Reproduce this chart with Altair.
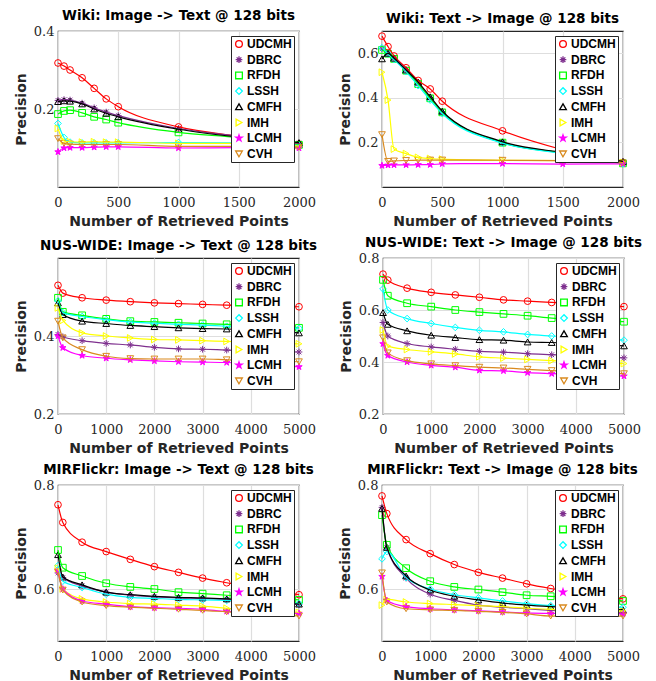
import altair as alt
import pandas as pd

methods = ["UDCMH", "DBRC", "RFDH", "LSSH", "CMFH", "IMH", "LCMH", "CVH"]
colors = ["#ff0000", "#7e2f8e", "#00ff00", "#00ffff", "#000000", "#ffff00", "#ff00ff", "#d98a1f"]
fills = ["transparent", "transparent", "transparent", "transparent", "transparent", "transparent", "#ff00ff", "transparent"]
ASTERISK = "M0,-1L0,1M-1,0L1,0M-0.7,-0.7L0.7,0.7M-0.7,0.7L0.7,-0.7"
STAR = "M0,-1L0.2245,-0.309L0.951,-0.309L0.363,0.118L0.588,0.809L0,0.382L-0.588,0.809L-0.363,0.118L-0.951,-0.309L-0.2245,-0.309Z"
shapes = ["circle", ASTERISK, "square", "diamond", "triangle-up", "triangle-right", STAR, "triangle-down"]

# ---- Wiki: Image -> Text ----
wiki_i2t_x = [0, 50, 100, 200, 300, 400, 500, 1000, 1500, 2000]
wiki_i2t = {
    "UDCMH": [0.318, 0.310, 0.300, 0.280, 0.253, 0.226, 0.206, 0.154, 0.130, 0.110],
    "DBRC":  [0.222, 0.224, 0.223, 0.215, 0.203, 0.192, 0.183, 0.150, 0.130, 0.112],
    "RFDH":  [0.187, 0.195, 0.197, 0.190, 0.180, 0.173, 0.165, 0.140, 0.127, 0.108],
    "LSSH":  [0.163, 0.127, 0.115, 0.113, 0.113, 0.113, 0.113, 0.114, 0.113, 0.107],
    "CMFH":  [0.219, 0.221, 0.220, 0.213, 0.200, 0.189, 0.180, 0.148, 0.128, 0.114],
    "IMH":   [0.150, 0.118, 0.116, 0.115, 0.116, 0.115, 0.115, 0.112, 0.112, 0.105],
    "LCMH":  [0.090, 0.100, 0.101, 0.101, 0.102, 0.103, 0.103, 0.100, 0.101, 0.100],
    "CVH":   [0.124, 0.112, 0.110, 0.109, 0.109, 0.109, 0.109, 0.104, 0.104, 0.102],
}

# ---- Wiki: Text -> Image ----
wiki_t2i_x = [0, 50, 100, 200, 300, 400, 500, 1000, 1500, 2000]
wiki_t2i = {
    "UDCMH": [0.677, 0.630, 0.588, 0.535, 0.478, 0.440, 0.385, 0.252, 0.167, 0.110],
    "DBRC":  [0.620, 0.600, 0.578, 0.527, 0.465, 0.400, 0.338, 0.200, 0.153, 0.108],
    "RFDH":  [0.615, 0.598, 0.575, 0.522, 0.462, 0.398, 0.335, 0.199, 0.152, 0.106],
    "LSSH":  [0.625, 0.597, 0.572, 0.518, 0.455, 0.390, 0.330, 0.197, 0.150, 0.105],
    "CMFH":  [0.575, 0.600, 0.578, 0.525, 0.471, 0.405, 0.340, 0.203, 0.155, 0.115],
    "IMH":   [0.515, 0.390, 0.170, 0.150, 0.133, 0.128, 0.125, 0.120, 0.118, 0.110],
    "LCMH":  [0.096, 0.098, 0.099, 0.099, 0.100, 0.100, 0.104, 0.105, 0.103, 0.104],
    "CVH":   [0.235, 0.115, 0.117, 0.119, 0.120, 0.121, 0.121, 0.120, 0.118, 0.108],
}

# ---- NUS-WIDE: Image -> Text ----
nus_i2t_x = [0, 100, 500, 1000, 1500, 2000, 2500, 3000, 3500, 5000]
nus_i2t = {
    "UDCMH": [0.530, 0.510, 0.498, 0.492, 0.488, 0.485, 0.483, 0.481, 0.479, 0.475],
    "DBRC":  [0.404, 0.398, 0.388, 0.381, 0.377, 0.371, 0.367, 0.366, 0.364, 0.359],
    "RFDH":  [0.498, 0.462, 0.453, 0.444, 0.438, 0.436, 0.434, 0.432, 0.430, 0.421],
    "LSSH":  [0.490, 0.460, 0.450, 0.442, 0.436, 0.433, 0.430, 0.428, 0.425, 0.420],
    "CMFH":  [0.485, 0.455, 0.438, 0.432, 0.427, 0.424, 0.421, 0.419, 0.418, 0.408],
    "IMH":   [0.472, 0.440, 0.408, 0.400, 0.395, 0.391, 0.390, 0.388, 0.386, 0.380],
    "LCMH":  [0.400, 0.370, 0.350, 0.343, 0.339, 0.336, 0.334, 0.333, 0.332, 0.321],
    "CVH":   [0.438, 0.395, 0.365, 0.348, 0.342, 0.341, 0.341, 0.341, 0.339, 0.334],
}

# ---- NUS-WIDE: Text -> Image ----
nus_t2i_x = [0, 100, 500, 1000, 1500, 2000, 2500, 3000, 3500, 5000]
nus_t2i = {
    "UDCMH": [0.738, 0.715, 0.684, 0.668, 0.658, 0.649, 0.639, 0.634, 0.629, 0.613],
    "DBRC":  [0.552, 0.500, 0.471, 0.458, 0.449, 0.441, 0.438, 0.432, 0.428, 0.416],
    "RFDH":  [0.716, 0.655, 0.626, 0.613, 0.600, 0.592, 0.585, 0.578, 0.569, 0.555],
    "LSSH":  [0.681, 0.600, 0.567, 0.548, 0.533, 0.522, 0.516, 0.506, 0.500, 0.484],
    "CMFH":  [0.590, 0.545, 0.520, 0.503, 0.494, 0.486, 0.484, 0.477, 0.475, 0.462],
    "IMH":   [0.523, 0.461, 0.448, 0.439, 0.431, 0.420, 0.415, 0.410, 0.405, 0.394],
    "LCMH":  [0.470, 0.425, 0.400, 0.387, 0.380, 0.368, 0.366, 0.359, 0.355, 0.346],
    "CVH":   [0.493, 0.435, 0.405, 0.393, 0.386, 0.380, 0.377, 0.372, 0.367, 0.355],
}

# ---- MIRFlickr: Image -> Text ----
mir_i2t_x = [0, 100, 500, 1000, 1500, 2000, 2500, 3000, 3500, 5000]
mir_i2t = {
    "UDCMH": [0.762, 0.728, 0.690, 0.672, 0.657, 0.643, 0.632, 0.621, 0.612, 0.589],
    "DBRC":  [0.631, 0.622, 0.606, 0.594, 0.588, 0.585, 0.583, 0.582, 0.580, 0.570],
    "RFDH":  [0.675, 0.641, 0.625, 0.611, 0.604, 0.600, 0.594, 0.591, 0.588, 0.579],
    "LSSH":  [0.645, 0.615, 0.603, 0.590, 0.584, 0.582, 0.580, 0.579, 0.578, 0.572],
    "CMFH":  [0.666, 0.623, 0.608, 0.594, 0.589, 0.586, 0.584, 0.583, 0.581, 0.571],
    "IMH":   [0.640, 0.600, 0.581, 0.575, 0.572, 0.571, 0.569, 0.567, 0.563, 0.555],
    "LCMH":  [0.635, 0.600, 0.577, 0.571, 0.566, 0.564, 0.563, 0.561, 0.557, 0.553],
    "CVH":   [0.633, 0.598, 0.575, 0.568, 0.565, 0.563, 0.561, 0.559, 0.556, 0.548],
}

# ---- MIRFlickr: Text -> Image ----
mir_t2i_x = [0, 100, 500, 1000, 1500, 2000, 2500, 3000, 3500, 5000]
mir_t2i = {
    "UDCMH": [0.779, 0.745, 0.695, 0.668, 0.647, 0.632, 0.621, 0.610, 0.601, 0.581],
    "DBRC":  [0.757, 0.680, 0.621, 0.590, 0.578, 0.569, 0.565, 0.562, 0.559, 0.553],
    "RFDH":  [0.742, 0.685, 0.640, 0.615, 0.604, 0.599, 0.594, 0.588, 0.586, 0.577],
    "LSSH":  [0.658, 0.672, 0.622, 0.600, 0.589, 0.583, 0.577, 0.572, 0.568, 0.565],
    "CMFH":  [0.755, 0.680, 0.625, 0.598, 0.586, 0.579, 0.573, 0.569, 0.566, 0.560],
    "IMH":   [0.569, 0.580, 0.575, 0.572, 0.570, 0.568, 0.566, 0.563, 0.561, 0.558],
    "LCMH":  [0.624, 0.578, 0.566, 0.562, 0.560, 0.558, 0.556, 0.554, 0.553, 0.552],
    "CVH":   [0.631, 0.575, 0.562, 0.560, 0.559, 0.557, 0.555, 0.552, 0.548, 0.548],
}

IND = dict(stroke="independent", fill="independent", shape="independent", color="independent")


def panel(title, xs, series, xdom, xticks, ydom, yticks, toff):
    rows = []
    for m in methods:
        for x, v in zip(xs, series[m]):
            rows.append({"x": x, "p": v, "method": m})
    df = pd.DataFrame(rows)
    xenc = alt.X("x:Q", scale=alt.Scale(domain=xdom, nice=False, zero=False),
                 axis=alt.Axis(values=xticks, title="Number of Retrieved Points", format="d"))
    yenc = alt.Y("p:Q", scale=alt.Scale(domain=ydom, nice=False, zero=False),
                 axis=alt.Axis(values=yticks, format=".1f", title="Precision"))
    leg = alt.Legend(title=None, orient="none", legendX=173, legendY=5)
    pts = alt.Chart(df).mark_point(size=45, strokeWidth=1, opacity=1).encode(
        x=xenc, y=yenc,
        color=alt.Color("method:N", scale=alt.Scale(domain=methods, range=colors), legend=leg),
        shape=alt.Shape("method:N", scale=alt.Scale(domain=methods, range=shapes), legend=leg),
        fill=alt.Fill("method:N", scale=alt.Scale(domain=methods, range=fills), legend=None),
    )
    lines = alt.Chart(df).mark_line(interpolate="monotone", strokeWidth=1.2).encode(
        x=xenc, y=yenc,
        stroke=alt.Stroke("method:N", scale=alt.Scale(domain=methods, range=colors), legend=None),
    )
    return alt.layer(pts, lines).properties(
        width=241, height=156, title=alt.Title(title, offset=toff)
    )


x2k = [0, 500, 1000, 1500, 2000]
x5k = [0, 1000, 2000, 3000, 4000, 5000]

p1 = panel("Wiki: Image -> Text @ 128 bits", wiki_i2t_x, wiki_i2t, [0, 2000], x2k, [0, 0.4], [0.2, 0.4], 2.5)
p2 = panel("Wiki: Text -> Image @ 128 bits", wiki_t2i_x, wiki_t2i, [0, 2000], x2k, [0, 0.7], [0.2, 0.4, 0.6], 5.5)
p3 = panel("NUS-WIDE: Image -> Text @ 128 bits", nus_i2t_x, nus_i2t, [0, 5000], x5k, [0.2, 0.6], [0.2, 0.4], 5.5)
p4 = panel("NUS-WIDE: Text -> Image @ 128 bits", nus_t2i_x, nus_t2i, [0, 5000], x5k, [0.2, 0.8], [0.2, 0.4, 0.6, 0.8], 2.5)
p5 = panel("MIRFlickr: Image -> Text @ 128 bits", mir_i2t_x, mir_i2t, [0, 5000], x5k, [0.5, 0.8], [0.6, 0.8], 2.5)
p6 = panel("MIRFlickr: Text -> Image @ 128 bits", mir_t2i_x, mir_t2i, [0, 5000], x5k, [0.5, 0.8], [0.6, 0.8], 2.5)


def row(a, b):
    return alt.hconcat(a, b, spacing=20).resolve_scale(**IND)


chart = alt.vconcat(
    row(p1, p2), row(p3, p4), row(p5, p6), spacing=6,
).resolve_scale(**IND).configure_view(
    stroke="#262626", strokeWidth=1.2
).configure_axis(
    grid=True, gridColor="#dedede", gridWidth=1.2, domain=False, ticks=False,
    labelFont="DejaVu Serif", labelFontSize=13, labelColor="#262626", labelPadding=9,
    labelFlush=False, labelOverlap=False,
    titleFont="DejaVu Sans", titleFontSize=14, titleFontWeight="bold", titleColor="#262626",
    titlePadding=5,
).configure_axisY(
    labelPadding=4, titlePadding=5
).configure_title(
    font="DejaVu Sans", fontSize=13.5, fontWeight="bold", color="#000000"
).configure_legend(
    strokeColor="#262626", fillColor="white", padding=2, labelFont="Liberation Sans",
    labelFontSize=12, labelFontWeight="bold", labelColor="#000000", labelOffset=2,
    rowPadding=3.7, symbolSize=45, symbolStrokeWidth=1.3, cornerRadius=0, zindex=1
).properties(
    padding={"left": 5, "top": 0, "right": 0, "bottom": 0}
)

chart.save("out.html", embed_options={"renderer": "svg", "actions": False})
